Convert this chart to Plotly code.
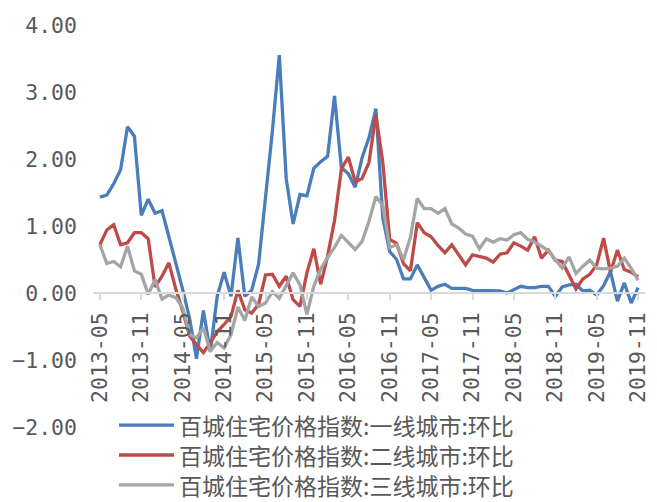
import pandas as pd
import plotly.graph_objects as go

# Monthly categories 2013-05 .. 2019-11
months = pd.period_range("2013-05", "2019-11", freq="M").strftime("%Y-%m").tolist()

# 百城住宅价格指数 month-on-month change (%)
tier1 = [1.43, 1.46, 1.63, 1.84, 2.48, 2.34, 1.16, 1.40, 1.19, 1.23,
         0.84, 0.45, 0.05, -0.38, -0.98, -0.26, -0.88, -0.05, 0.31, -0.05,
         0.82, -0.05, 0.04, 0.43, 1.40, 2.42, 3.55, 1.71, 1.03, 1.47,
         1.45, 1.86, 1.96, 2.04, 2.94, 1.87, 1.78, 1.58, 2.02, 2.32,
         2.75, 1.12, 0.62, 0.50, 0.21, 0.21, 0.42, 0.23, 0.04, 0.10,
         0.13, 0.07, 0.07, 0.07, 0.04, 0.04, 0.04, 0.04, 0.03, 0.00,
         0.05, 0.10, 0.08, 0.08, 0.10, 0.10, -0.05, 0.09, 0.12, 0.13,
         0.03, 0.04, -0.03, 0.11, 0.32, -0.12, 0.15, -0.15, 0.08]
tier2 = [0.72, 0.94, 1.02, 0.72, 0.75, 0.90, 0.90, 0.81, 0.09, 0.25,
         0.45, 0.06, -0.27, -0.64, -0.77, -0.89, -0.74, -0.58, -0.47, -0.35,
         0.04, -0.25, -0.30, -0.17, 0.27, 0.28, 0.10, 0.25, -0.10, -0.20,
         0.30, 0.66, 0.13, 0.55, 1.08, 1.85, 2.03, 1.66, 1.71, 1.95,
         2.66, 1.95, 0.80, 0.74, 0.44, 0.33, 1.05, 0.90, 0.84, 0.71,
         0.60, 0.72, 0.57, 0.42, 0.57, 0.54, 0.52, 0.46, 0.58, 0.60,
         0.75, 0.70, 0.64, 0.84, 0.52, 0.64, 0.49, 0.47, 0.27, 0.06,
         0.21, 0.28, 0.42, 0.82, 0.31, 0.64, 0.35, 0.31, 0.24]
tier3 = [0.72, 0.44, 0.47, 0.39, 0.70, 0.33, 0.28, -0.02, 0.20, -0.09,
         -0.03, -0.07, -0.22, -0.62, -0.67, -0.52, -0.87, -0.74, -0.82, -0.62,
         -0.21, -0.41, -0.06, -0.20, -0.15, 0.02, -0.08, 0.10, 0.30, 0.12,
         -0.32, 0.10, 0.36, 0.53, 0.68, 0.86, 0.76, 0.65, 0.77, 1.07,
         1.44, 1.31, 0.68, 0.72, 0.50, 0.83, 1.41, 1.26, 1.26, 1.19,
         1.26, 1.03, 0.97, 0.88, 0.85, 0.66, 0.81, 0.76, 0.81, 0.79,
         0.87, 0.90, 0.80, 0.76, 0.70, 0.63, 0.50, 0.37, 0.54, 0.29,
         0.40, 0.49, 0.37, 0.36, 0.37, 0.40, 0.52, 0.37, 0.19]

series_names = ["百城住宅价格指数:一线城市:环比",
                "百城住宅价格指数:二线城市:环比",
                "百城住宅价格指数:三线城市:环比"]
series_colors = ["#4A7EBB", "#BE4B48", "#A5A5A5"]
x_tick_labels = months[::6]
y_tick_values = [4, 3, 2, 1, 0, -1, -2]

text_grey = "#595959"
axis_grey = "#D9D9D9"
y_min, y_max = -2, 4
line_w = 3.3
tick_font = dict(family="DejaVu Sans Mono", size=21.5, color=text_grey)
legend_size = 23

# plot-area geometry (pixels)
W, H = 657, 502
ml, mr, mt, mb = 93, 12, 25, 75
pw, ph = W - ml - mr, H - mt - mb


def px_x(px):
    return (px - ml) / pw


def px_y(py):
    return (H - mb - py) / ph


fig = go.Figure()
for name, vals, color in zip(series_names, [tier1, tier2, tier3], series_colors):
    fig.add_trace(go.Scatter(x=months, y=vals, mode="lines", name=name,
                             line=dict(color=color, width=line_w),
                             showlegend=False))

# legend block under the chart: one swatch line per series, names stacked
row_gap = legend_size * 1.3
mid_row = 455
for k, color in enumerate(series_colors):
    row_y = mid_row + (k - 1) * row_gap
    fig.add_shape(type="line", xref="paper", yref="paper",
                  x0=px_x(119), x1=px_x(174), y0=px_y(row_y), y1=px_y(row_y),
                  line=dict(color=color, width=line_w))
fig.add_annotation(xref="paper", yref="paper", x=px_x(178), y=px_y(mid_row),
                   xanchor="left", yanchor="middle", align="left",
                   showarrow=False, borderpad=0,
                   text="<br>".join(series_names),
                   font=dict(family="Noto Sans CJK SC", size=legend_size,
                             color=text_grey))

fig.update_layout(
    width=W, height=H,
    margin=dict(l=ml, r=mr, t=mt, b=mb, autoexpand=False),
    paper_bgcolor="white", plot_bgcolor="white",
    xaxis=dict(
        type="category", range=[-1, len(months)],
        anchor="free", position=(0 - y_min) / (y_max - y_min),
        showline=True, linecolor=axis_grey, linewidth=1.5,
        ticks="outside", ticklen=6, tickcolor=axis_grey, tickwidth=1.5,
        tickvals=x_tick_labels, ticktext=x_tick_labels,
        tickangle=-90, showgrid=False, zeroline=False,
        ticklabelstandoff=4, tickfont=tick_font,
    ),
    yaxis=dict(
        range=[y_min, y_max], tickvals=y_tick_values, tickformat=".2f",
        showline=False, showgrid=False, zeroline=False, ticks="",
        ticklabelstandoff=15, tickfont=tick_font,
    ),
)

fig.write_html("out.html")
